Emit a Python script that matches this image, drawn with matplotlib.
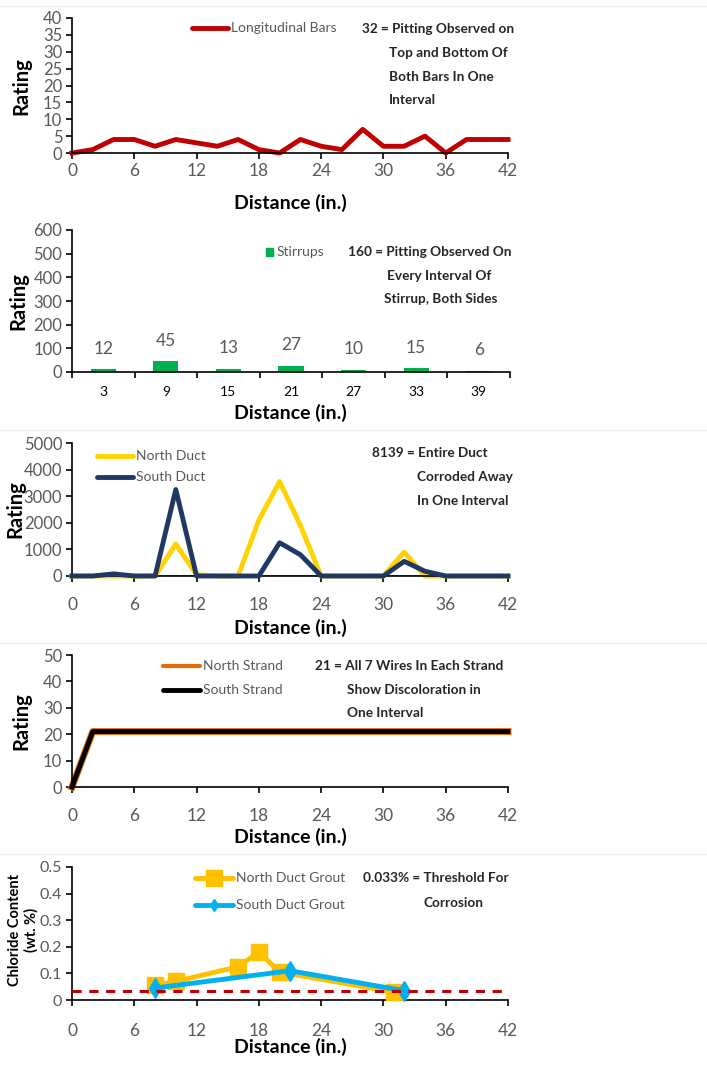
import matplotlib.pyplot as plt
import numpy as np

# ---- data ----
dist = np.arange(0, 44, 2)

long_bars = [0, 1, 4, 4, 2, 4, 3, 2, 4, 1, 0, 4, 2, 1, 7, 2, 2, 5, 0, 4, 4, 4]

stirrup_pos = ['3', '9', '15', '21', '27', '33', '39']
stirrup_vals = [12, 45, 13, 27, 10, 15, 6]

north_duct = [0, 0, 0, 0, 0, 1200, 50, 0, 0, 2100, 3550, 1900, 0, 0, 0, 0, 900, 0, 0, 0, 0, 0]
south_duct = [0, 0, 80, 0, 0, 3250, 0, 0, 0, 0, 1250, 800, 0, 0, 0, 0, 550, 180, 0, 0, 0, 0]

north_strand = [0] + [21] * 21
south_strand = [0] + [21] * 21

north_grout_x = [8, 10, 16, 18, 20, 31]
north_grout_y = [0.055, 0.07, 0.125, 0.18, 0.105, 0.03]
south_grout_x = [8, 21, 32]
south_grout_y = [0.045, 0.11, 0.035]
threshold = 0.033

W, H = 707, 1065
TICK_C = '#595959'
TXT_C = '#262626'
NOTE_SIZE = 9.8
LEG_SIZE = 10

plt.rcParams['font.family'] = ['Lato', 'DejaVu Sans']

fig = plt.figure(figsize=(W / 100, H / 100), dpi=100)


def make_axes(left, right, top, bottom, xpad):
    ax = fig.add_axes([left / W, 1 - bottom / H, (right - left) / W, (bottom - top) / H])
    for s in ['top', 'right']:
        ax.spines[s].set_visible(False)
    for s in ['left', 'bottom']:
        ax.spines[s].set_color('black')
        ax.spines[s].set_linewidth(1.2)
    ax.tick_params(axis='both', direction='out', length=4, width=1.2,
                   labelsize=12.5, labelcolor=TICK_C, pad=3)
    ax.tick_params(axis='y', labelsize=12)
    ax.tick_params(axis='x', pad=xpad)
    return ax


def ftext(x, y, s, **kw):
    # place text by pixel coordinates of the figure
    kw.setdefault('fontsize', NOTE_SIZE)
    kw.setdefault('fontweight', 'bold')
    kw.setdefault('color', TXT_C)
    kw.setdefault('va', 'center')
    fig.text(x / W, 1 - y / H, s, **kw)


def legend_line(x0, x1, y, label, color, lw=3.5, marker=None, ms=0):
    fig.add_artist(plt.Line2D([x0 / W, x1 / W], [1 - y / H] * 2, color=color, lw=lw,
                              solid_capstyle='round'))
    if marker:
        fig.add_artist(plt.Line2D([(x0 + x1) / 2 / W], [1 - y / H], color=color,
                                  marker=marker, ms=ms, lw=0))
    ftext(x1 + 3, y, label, fontweight='normal', color=TICK_C, fontsize=LEG_SIZE, ha='left')


def xlabel(y):
    ftext(290, y, 'Distance (in.)', fontsize=14, color='black', ha='center')


def dist_axis(ax, label_y):
    ax.set_xlim(0, 42)
    ax.set_xticks(range(0, 43, 6))
    xlabel(label_y)


def rating(y, x=21):
    ftext(x, y, 'Rating', fontsize=14.5, color='black', ha='center', rotation=90)


# separator lines between the stacked charts
for yy in [6, 430, 643, 854]:
    fig.add_artist(plt.Line2D([0, 1], [1 - yy / H] * 2, color='#EDEDED', lw=1))

# ---- panel 1: longitudinal bars ----
ax1 = make_axes(72, 508, 18, 153, 3.5)
ax1.plot(dist, long_bars, color='#C00000', lw=3.5, clip_on=False)
ax1.set_ylim(0, 40)
ax1.set_yticks(range(0, 41, 5))
dist_axis(ax1, 203)
rating(86)
legend_line(192, 228, 28, 'Longitudinal Bars', '#C00000')
ftext(362, 29, '32 = Pitting Observed on', ha='left')
ftext(389, 53, 'Top and Bottom Of', ha='left')
ftext(389, 77, 'Both Bars In One', ha='left')
ftext(389, 100, 'Interval', ha='left')

# ---- panel 2: stirrups ----
ax2 = make_axes(72, 510, 230, 372, 10)
pos = np.arange(len(stirrup_vals))
ax2.bar(pos, stirrup_vals, width=0.4, color='#00B050')
for p, v in zip(pos, stirrup_vals):
    ax2.annotate(str(v), (p, v), xytext=(0, 9), textcoords='offset points',
                 ha='center', va='bottom', fontsize=12.5, color=TICK_C)
ax2.set_xlim(-0.5, len(stirrup_vals) - 0.5)
ax2.set_xticks(np.arange(-0.5, len(stirrup_vals), 1))
ax2.set_xticklabels([])
ax2.set_xticks(pos, minor=True)
ax2.set_xticklabels(stirrup_pos, minor=True)
ax2.tick_params(axis='x', which='minor', length=0, pad=10)
ax2.set_ylim(0, 600)
ax2.set_yticks(range(0, 601, 100))
xlabel(413)
rating(301, x=18)
fig.add_artist(plt.Rectangle((266 / W, 1 - 256 / H), 7 / W, 8 / H, color='#00B050'))
ftext(277, 252, 'Stirrups', fontweight='normal', color=TICK_C, fontsize=LEG_SIZE, ha='left')
ftext(348, 252, '160 = Pitting Observed On', ha='left')
ftext(387, 276, 'Every Interval Of', ha='left')
ftext(384, 299, 'Stirrup, Both Sides', ha='left')

# ---- panel 3: ducts ----
ax3 = make_axes(72, 508, 443, 576, 11)
ax3.axhline(0, color='#7F7F7F', lw=1.2, zorder=1)
ax3.plot(dist, north_duct, color='#FFD200', lw=3.5, clip_on=False, zorder=2)
ax3.plot(dist, south_duct, color='#1F3864', lw=3.5, clip_on=False, zorder=3)
ax3.set_ylim(0, 5000)
ax3.set_yticks(range(0, 5001, 1000))
dist_axis(ax3, 628)
rating(509, x=15)
legend_line(97, 133, 456, 'North Duct', '#FFD200')
legend_line(97, 133, 477, 'South Duct', '#1F3864')
ftext(372, 453, '8139 = Entire Duct', ha='left')
ftext(417, 477, 'Corroded Away', ha='left')
ftext(417, 501, 'In One Interval', ha='left')

# ---- panel 4: strands ----
ax4 = make_axes(72, 508, 655, 787, 11)
ax4.plot(dist, north_strand, color='#E36C09', lw=5, clip_on=False)
ax4.plot(dist, south_strand, color='black', lw=3.5, clip_on=False)
ax4.set_ylim(0, 50)
ax4.set_yticks(range(0, 51, 10))
dist_axis(ax4, 837)
rating(721)
legend_line(163, 200, 666, 'North Strand', '#E36C09', lw=3)
legend_line(163, 200, 690, 'South Strand', 'black', lw=3.5)
ftext(315, 666, '21 = All 7 Wires In Each Strand', ha='left')
ftext(347, 690, 'Show Discoloration in', ha='left')
ftext(347, 713, 'One Interval', ha='left')

# ---- panel 5: chloride content ----
ax5 = make_axes(72, 508, 867, 1000, 12.5)
ax5.tick_params(axis='y', labelsize=11.5)
ax5.plot(north_grout_x, north_grout_y, color='#FFC000', lw=3.5, marker='s', ms=11,
         clip_on=False, zorder=3)
ax5.plot(south_grout_x, south_grout_y, color='#00B0F0', lw=3.5, marker='d', ms=10,
         clip_on=False, zorder=4)
ax5.axhline(threshold, color='#C00000', lw=2.2, ls=(0, (3, 2.5)), zorder=5)
ax5.set_ylim(0, 0.5)
ax5.set_yticks(np.arange(0, 0.51, 0.1))
ax5.set_yticklabels(['0', '0.1', '0.2', '0.3', '0.4', '0.5'])
ax5.set_xlim(0, 42)
ax5.set_xticks(range(0, 43, 6))
xlabel(1047)
ftext(15, 930, 'Chloride Content', fontsize=10.5, color='black', ha='center', rotation=90)
ftext(31, 930, '(wt. %)', fontsize=10.5, color='black', ha='center', rotation=90)
legend_line(195, 233, 878, 'North Duct Grout', '#FFC000', marker='s', ms=11)
legend_line(195, 233, 905, 'South Duct Grout', '#00B0F0', marker='d', ms=6)
ftext(363, 878, '0.033% = Threshold For', ha='left')
ftext(423, 903, 'Corrosion', ha='left')

fig.savefig('out.png', dpi=100, facecolor='white')
